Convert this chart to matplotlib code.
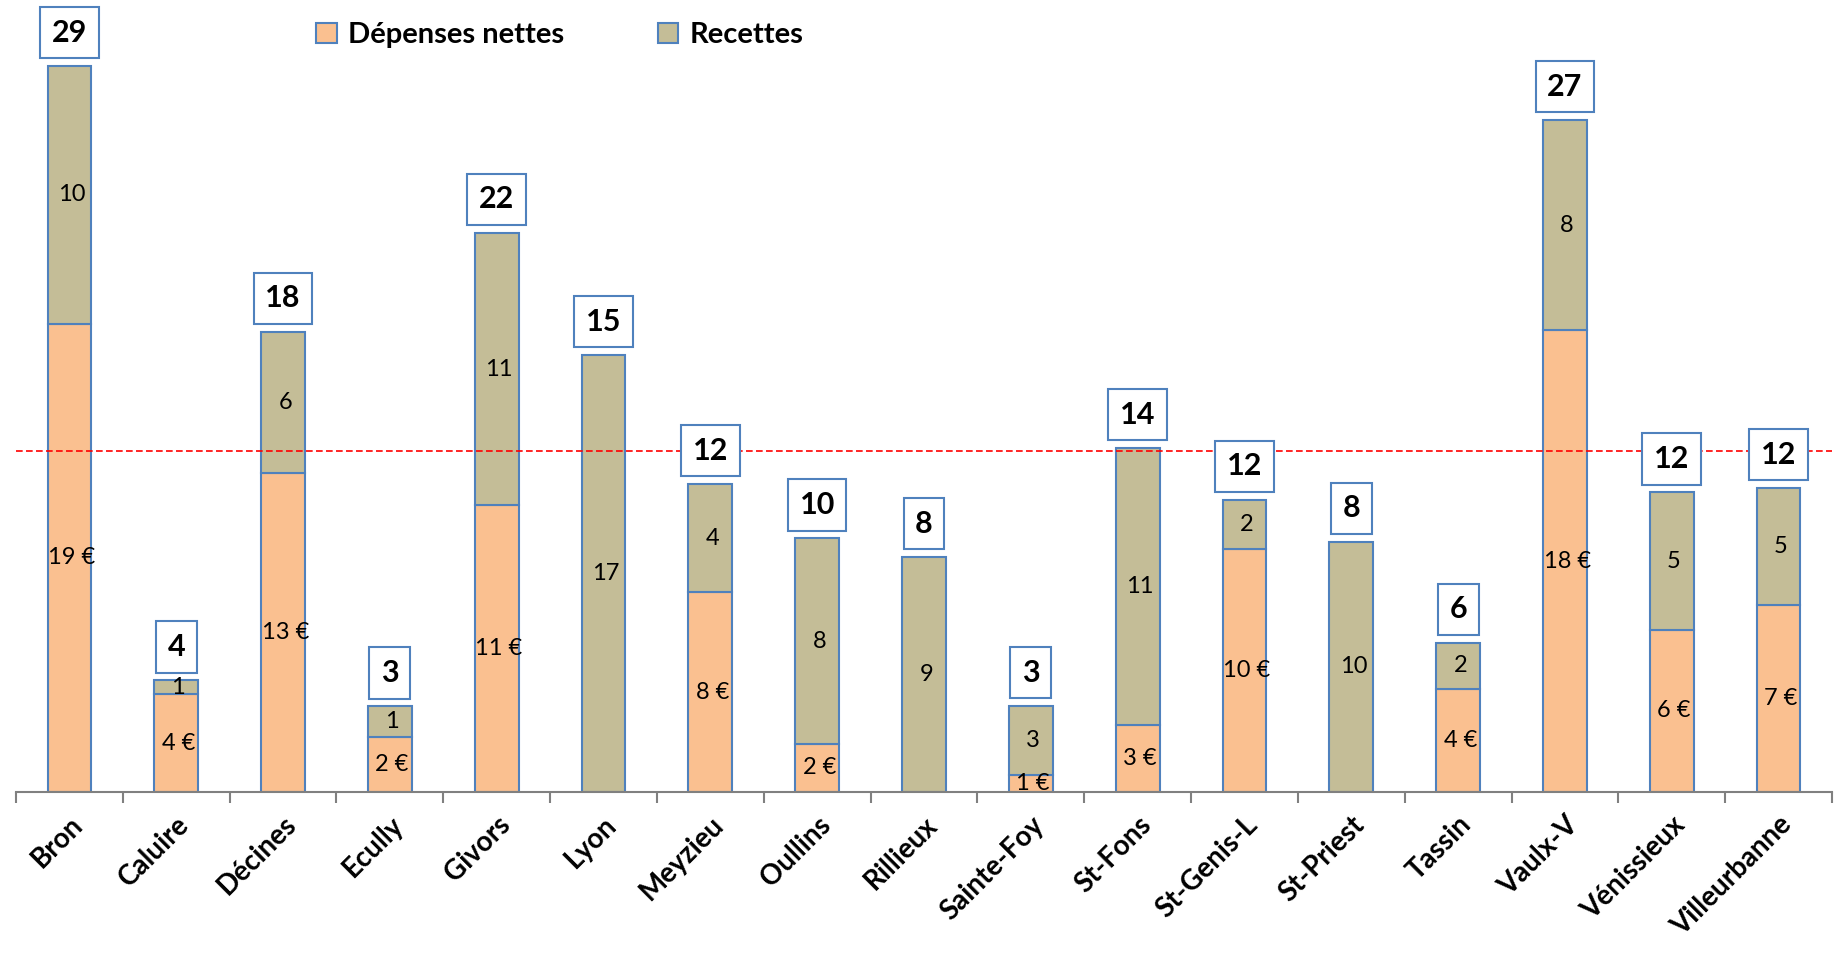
import numpy as np
import matplotlib.pyplot as plt
from matplotlib.patches import Patch

plt.rcParams['font.family'] = ['Lato', 'DejaVu Sans']

# Data
communes = ['Bron', 'Caluire', 'Décines', 'Ecully', 'Givors', 'Lyon', 'Meyzieu',
            'Oullins', 'Rillieux', 'Sainte-Foy', 'St-Fons', 'St-Genis-L',
            'St-Priest', 'Tassin', 'Vaulx-V', 'Vénissieux', 'Villeurbanne']
depenses = [18.7, 3.9, 12.76, 2.2, 11.45, -2.4, 7.98, 1.92, -1.4, 0.66, 2.67,
            9.71, -2.0, 4.13, 18.44, 6.48, 7.46]
recettes = [10.3, 0.56, 5.63, 1.22, 10.89, 17.46, 4.32, 8.21, 9.39, 2.77, 11.07,
            1.97, 10.0, 1.83, 8.4, 5.49, 4.69]
reference_line = 13.62

col_dep = '#FAC090'
col_rec = '#C4BD97'
edge = '#4F81BD'

dep = np.array(depenses)
rec = np.array(recettes)
total = dep + rec
x = np.arange(len(communes))

fig = plt.figure(figsize=(18.47, 9.55), dpi=100)
ax = fig.add_axes([16 / 1847, 163 / 955, 1816 / 1847, 792 / 955])

# negative "dépenses" stay below the axis floor, as in the original
dep_pos = np.clip(dep, 0, None)
ax.bar(x, dep_pos, width=0.41, color=col_dep, edgecolor=edge, linewidth=1.5)
ax.bar(x, rec, width=0.41, bottom=dep_pos, color=col_rec, edgecolor=edge, linewidth=1.5)

for i in range(len(x)):
    if dep[i] > 0:
        ax.text(x[i] + 0.02, dep[i] / 2, f'{dep[i]:.0f} €', ha='center', va='center', fontsize=17)
    ax.text(x[i] + 0.02, dep_pos[i] + rec[i] / 2, f'{rec[i]:.0f}', ha='center', va='center', fontsize=17)
    ax.annotate(f'{total[i]:.0f}', (x[i], dep_pos[i] + rec[i]), xytext=(0, 24),
                textcoords='offset points', ha='center', va='center',
                fontsize=22, fontweight='bold',
                bbox=dict(boxstyle='square,pad=0.38', fc='white', ec=edge, lw=1.5))

ax.axhline(reference_line, color='red', linestyle='--', linewidth=1.2, dashes=(4, 2))

ax.set_xlim(-0.5, len(x) - 0.5)
ax.set_ylim(0, 31.64)
ax.set_yticks([])
for s in ['top', 'right', 'left']:
    ax.spines[s].set_visible(False)
ax.spines['bottom'].set_color('#808080')
ax.spines['bottom'].set_linewidth(1.5)

ax.set_xticks(np.arange(len(x) + 1) - 0.5)
ax.set_xticklabels([])
ax.tick_params(axis='x', which='major', length=8, width=1.5, color='#808080')
ax.set_xticks(x, minor=True)
ax.set_xticklabels(communes, minor=True, rotation=45, ha='right', rotation_mode='anchor',
                   fontsize=20, fontweight='bold')
ax.tick_params(axis='x', which='minor', length=0, pad=14)

handles = [Patch(facecolor=col_dep, edgecolor=edge, linewidth=1.5, label='Dépenses nettes'),
           Patch(facecolor=col_rec, edgecolor=edge, linewidth=1.5, label='Recettes')]
fig.legend(handles=handles, loc='center left', bbox_to_anchor=(290 / 1847, 1 - 35 / 955),
           ncol=2, frameon=False, handlelength=0.7, handleheight=0.7, handletextpad=0.4,
           columnspacing=3.2, prop={'size': 21, 'weight': 'bold'})

fig.savefig('out.png', dpi=100)
